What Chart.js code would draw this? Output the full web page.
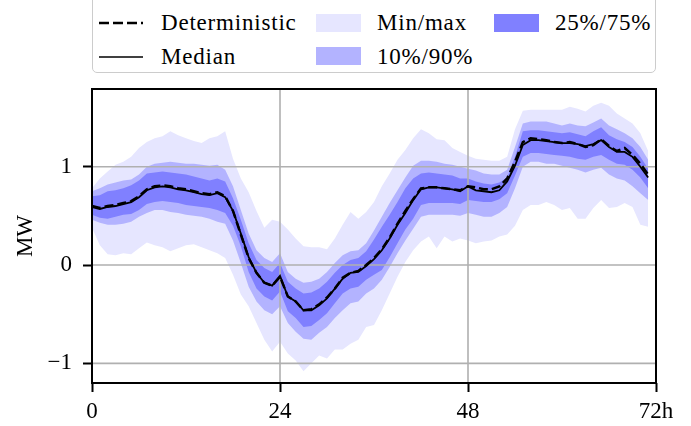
<!DOCTYPE html>
<html>
<head>
<meta charset="utf-8">
<script src="https://cdn.jsdelivr.net/npm/chart.js@4"></script>
<style>
  html, body { margin: 0; padding: 0; background: #fff; }
  body { width: 691px; height: 426px; position: relative; overflow: hidden; font-family: 'Liberation Serif', 'DejaVu Serif', serif; }
  #wrap { position: absolute; left: 0; top: 0; width: 691px; height: 426px; }
  .legend-box { position: absolute; left: 92px; top: -12px; width: 562px; height: 83px; border: 1.6px solid #cccccc; border-radius: 5px; background: #fff; }
  .lg-text { position: absolute; height: 28px; line-height: 28px; font-size: 23px; color: #000; letter-spacing: 0.8px; white-space: nowrap; font-family: 'Liberation Serif', 'DejaVu Serif', serif; }
  .lg-swatch { position: absolute; width: 45px; height: 18px; }
  svg.lg-line { position: absolute; left: 99px; width: 44px; height: 6px; }
</style>
</head>
<body>
<div id="wrap"><canvas id="chart"></canvas></div>

<div class="legend-box"></div>
<svg class="lg-line" style="top:20px"><line x1="0" y1="3" x2="44" y2="3" stroke="#000" stroke-width="2.5" stroke-dasharray="10 4"/></svg>
<span class="lg-text" style="left:161px; top:9px">Deterministic</span>
<svg class="lg-line" style="top:54px"><line x1="0" y1="3" x2="44" y2="3" stroke="#000" stroke-width="1.7"/></svg>
<span class="lg-text" style="left:161px; top:43px">Median</span>
<div class="lg-swatch" style="left:316px; top:14px; background:#e6e6ff"></div>
<span class="lg-text" style="left:377px; top:9px">Min/max</span>
<div class="lg-swatch" style="left:316px; top:47px; background:#b3b3ff"></div>
<span class="lg-text" style="left:377px; top:43px">10%/90%</span>
<div class="lg-swatch" style="left:494px; top:14px; background:#8080ff"></div>
<span class="lg-text" style="left:555px; top:9px">25%/75%</span>

<script>
// hours of the forecast horizon
const hours = [0, 1, 2, 3, 4, 5, 6, 7, 8, 9, 10, 11, 12, 13, 14, 15, 16, 17, 18, 19, 20, 21, 22, 23,
    24, 25, 26, 27, 28, 29, 30, 31, 32, 33, 34, 35, 36, 37, 38, 39, 40, 41, 42, 43, 44, 45, 46, 47,
    48, 49, 50, 51, 52, 53, 54, 55, 56, 57, 58, 59, 60, 61, 62, 63, 64, 65, 66, 67, 68, 69, 70, 71];

const xTicks = [0, 24, 48, 72];
const xTickLabels = ['0', '24', '48', '72h'];
const yTicks = [-1, 0, 1];
const yTickLabels = ['\u22121', '0', '1'];

const deterministic = [0.60, 0.58, 0.60, 0.61, 0.63, 0.65, 0.70, 0.77, 0.80, 0.81, 0.80, 0.78, 0.77, 0.75, 0.73, 0.72, 0.74, 0.70,
    0.55, 0.31, 0.07, -0.08, -0.18, -0.21, -0.12, -0.32, -0.37, -0.46, -0.45, -0.40, -0.33, -0.24, -0.13, -0.08, -0.06, 0.00,
    0.07, 0.16, 0.28, 0.42, 0.55, 0.67, 0.78, 0.79, 0.79, 0.78, 0.77, 0.76, 0.80, 0.79, 0.77, 0.77, 0.80, 0.88,
    1.05, 1.25, 1.29, 1.28, 1.27, 1.25, 1.24, 1.25, 1.23, 1.20, 1.22, 1.28, 1.21, 1.16, 1.19, 1.12, 1.03, 0.92];

const median = [0.59, 0.57, 0.59, 0.60, 0.62, 0.64, 0.69, 0.76, 0.79, 0.80, 0.79, 0.77, 0.76, 0.74, 0.72, 0.71, 0.73, 0.69,
    0.55, 0.32, 0.08, -0.08, -0.18, -0.21, -0.11, -0.32, -0.37, -0.46, -0.46, -0.41, -0.34, -0.24, -0.14, -0.08, -0.07, -0.01,
    0.06, 0.15, 0.27, 0.41, 0.53, 0.66, 0.77, 0.79, 0.79, 0.78, 0.77, 0.75, 0.80, 0.76, 0.75, 0.74, 0.76, 0.85,
    1.01, 1.22, 1.27, 1.27, 1.26, 1.25, 1.24, 1.24, 1.23, 1.21, 1.23, 1.27, 1.20, 1.15, 1.15, 1.10, 1.00, 0.89];

const minVals = [0.38, 0.20, 0.11, 0.10, 0.12, 0.11, 0.17, 0.23, 0.20, 0.18, 0.14, 0.17, 0.20, 0.21, 0.18, 0.15, 0.12, 0.07,
    -0.10, -0.30, -0.42, -0.59, -0.76, -0.88, -0.78, -0.90, -0.97, -1.08, -1.00, -0.92, -0.95, -0.86, -0.86, -0.80, -0.76, -0.63,
    -0.61, -0.46, -0.29, -0.12, 0.03, 0.15, 0.24, 0.29, 0.17, 0.29, 0.24, 0.27, 0.25, 0.22, 0.24, 0.25, 0.29, 0.31,
    0.40, 0.56, 0.61, 0.61, 0.64, 0.61, 0.56, 0.58, 0.47, 0.47, 0.58, 0.66, 0.58, 0.59, 0.63, 0.59, 0.41, 0.39];

const maxVals = [0.78, 0.88, 0.95, 1.02, 1.05, 1.10, 1.19, 1.25, 1.29, 1.31, 1.36, 1.32, 1.29, 1.26, 1.24, 1.29, 1.31, 1.36,
    1.08, 0.88, 0.74, 0.55, 0.38, 0.46, 0.44, 0.36, 0.27, 0.19, 0.18, 0.18, 0.16, 0.27, 0.41, 0.54, 0.47, 0.54,
    0.64, 0.80, 0.93, 1.07, 1.17, 1.29, 1.38, 1.34, 1.28, 1.27, 1.19, 1.15, 1.11, 1.08, 1.07, 1.06, 1.06, 1.10,
    1.38, 1.57, 1.58, 1.58, 1.58, 1.58, 1.58, 1.61, 1.59, 1.56, 1.62, 1.65, 1.62, 1.54, 1.49, 1.44, 1.34, 1.16];

const p10 = [0.46, 0.43, 0.41, 0.41, 0.42, 0.44, 0.49, 0.53, 0.56, 0.56, 0.54, 0.53, 0.51, 0.50, 0.49, 0.47, 0.44, 0.42,
    0.25, 0.02, -0.22, -0.37, -0.46, -0.50, -0.42, -0.59, -0.68, -0.75, -0.76, -0.69, -0.63, -0.54, -0.46, -0.39, -0.37, -0.29,
    -0.24, -0.15, -0.02, 0.12, 0.25, 0.37, 0.49, 0.51, 0.51, 0.51, 0.51, 0.50, 0.53, 0.51, 0.49, 0.49, 0.53, 0.59,
    0.78, 1.00, 1.05, 1.05, 1.03, 1.03, 1.01, 0.99, 0.97, 0.94, 0.97, 0.99, 0.92, 0.88, 0.86, 0.80, 0.73, 0.66];

const p90 = [0.75, 0.78, 0.82, 0.84, 0.86, 0.87, 0.92, 1.00, 1.03, 1.04, 1.05, 1.04, 1.03, 1.03, 1.02, 1.01, 1.02, 0.97,
    0.80, 0.56, 0.32, 0.15, 0.07, 0.03, 0.12, -0.07, -0.14, -0.18, -0.17, -0.14, -0.07, 0.02, 0.10, 0.14, 0.15, 0.22,
    0.35, 0.49, 0.63, 0.76, 0.89, 1.01, 1.06, 1.06, 1.05, 1.03, 1.02, 1.00, 0.98, 0.96, 0.93, 0.92, 0.92, 0.97,
    1.20, 1.44, 1.46, 1.46, 1.46, 1.44, 1.42, 1.44, 1.42, 1.41, 1.45, 1.49, 1.42, 1.38, 1.34, 1.29, 1.20, 1.07];

const p25 = [0.51, 0.48, 0.47, 0.49, 0.51, 0.52, 0.56, 0.62, 0.64, 0.65, 0.64, 0.63, 0.61, 0.60, 0.59, 0.58, 0.56, 0.53,
    0.40, 0.19, -0.07, -0.24, -0.32, -0.36, -0.27, -0.47, -0.54, -0.63, -0.62, -0.56, -0.49, -0.39, -0.29, -0.24, -0.22, -0.15,
    -0.10, -0.05, 0.08, 0.22, 0.36, 0.47, 0.61, 0.63, 0.63, 0.63, 0.63, 0.62, 0.66, 0.65, 0.64, 0.64, 0.67, 0.73,
    0.91, 1.10, 1.14, 1.14, 1.13, 1.12, 1.11, 1.10, 1.08, 1.07, 1.10, 1.12, 1.07, 1.03, 1.02, 0.97, 0.89, 0.78];

const p75 = [0.70, 0.71, 0.75, 0.76, 0.78, 0.81, 0.86, 0.93, 0.94, 0.95, 0.94, 0.93, 0.92, 0.90, 0.88, 0.86, 0.88, 0.85,
    0.68, 0.46, 0.22, 0.05, -0.03, -0.07, 0.02, -0.17, -0.24, -0.29, -0.28, -0.24, -0.17, -0.08, 0.00, 0.05, 0.07, 0.14,
    0.26, 0.39, 0.51, 0.64, 0.78, 0.88, 0.93, 0.94, 0.93, 0.92, 0.91, 0.88, 0.88, 0.85, 0.83, 0.82, 0.84, 0.89,
    1.10, 1.36, 1.37, 1.37, 1.36, 1.35, 1.34, 1.35, 1.33, 1.31, 1.36, 1.40, 1.32, 1.28, 1.25, 1.20, 1.10, 0.98];

const gridColor = '#b0b0b0';

function toPoints(values) {
    return values.map((v, i) => ({ x: hours[i], y: v }));
}

function band(values, color, fillTo) {
    return {
        data: toPoints(values),
        borderWidth: 0,
        borderColor: 'transparent',
        backgroundColor: color,
        pointRadius: 0,
        tension: 0,
        fill: fillTo
    };
}

// grid goes above the bands but below the two lines, like matplotlib
const gridAndFrame = {
    id: 'gridAndFrame',
    afterDatasetDraw(chart, args) {
        if (args.index !== 2) return;
        const ctx = chart.ctx;
        const area = chart.chartArea;
        const xs = chart.scales.x, ys = chart.scales.y;
        ctx.save();
        ctx.strokeStyle = gridColor;
        ctx.lineWidth = 1.6;
        ctx.beginPath();
        xTicks.forEach(v => {
            const px = xs.getPixelForValue(v);
            ctx.moveTo(px, area.top);
            ctx.lineTo(px, area.bottom);
        });
        yTicks.forEach(v => {
            const py = ys.getPixelForValue(v);
            ctx.moveTo(area.left, py);
            ctx.lineTo(area.right, py);
        });
        ctx.stroke();
        ctx.restore();
    },
    afterDraw(chart) {
        const ctx = chart.ctx;
        const area = chart.chartArea;
        ctx.save();
        ctx.strokeStyle = '#000';
        ctx.lineWidth = 2;
        ctx.strokeRect(area.left, area.top, area.right - area.left, area.bottom - area.top);
        ctx.restore();
    }
};

Chart.defaults.font.family = "'Liberation Serif', 'DejaVu Serif', serif";
Chart.defaults.font.size = 23;
Chart.defaults.color = '#000';

const ctx = document.getElementById('chart').getContext('2d');
new Chart(ctx, {
    type: 'line',
    data: {
        datasets: [
            {
                label: 'Deterministic',
                data: toPoints(deterministic),
                borderColor: '#000',
                borderWidth: 2.5,
                borderDash: [9, 4],
                pointRadius: 0,
                tension: 0,
                fill: false
            },
            {
                label: 'Median',
                data: toPoints(median),
                borderColor: '#000',
                borderWidth: 1.8,
                pointRadius: 0,
                tension: 0,
                fill: false
            },
            band(p25, '#8080ff', '+1'),
            band(p75, '#8080ff', false),
            band(p10, '#b3b3ff', '+1'),
            band(p90, '#b3b3ff', false),
            band(minVals, '#e6e6ff', '+1'),
            band(maxVals, '#e6e6ff', false)
        ]
    },
    options: {
        responsive: true,
        maintainAspectRatio: false,
        animation: false,
        layout: {
            padding: { left: 0, top: 89, right: 35, bottom: 0 }
        },
        plugins: {
            legend: { display: false },
            tooltip: { enabled: false }
        },
        scales: {
            x: {
                type: 'linear',
                min: 0,
                max: 72,
                afterBuildTicks: scale => { scale.ticks = xTicks.map(v => ({ value: v })); },
                afterFit: scale => { scale.height = 43; },
                ticks: {
                    padding: 6,
                    maxRotation: 0,
                    autoSkip: false,
                    callback: value => xTickLabels[xTicks.indexOf(value)]
                },
                grid: {
                    drawOnChartArea: false,
                    drawTicks: true,
                    tickLength: 9,
                    tickWidth: 2,
                    tickColor: '#000'
                },
                border: { display: false }
            },
            y: {
                min: -1.2,
                max: 1.79,
                afterBuildTicks: scale => { scale.ticks = yTicks.map(v => ({ value: v })); },
                afterFit: scale => { scale.width = 92; },
                ticks: {
                    padding: 11,
                    autoSkip: false,
                    callback: value => yTickLabels[yTicks.indexOf(value)]
                },
                grid: {
                    drawOnChartArea: false,
                    drawTicks: true,
                    tickLength: 9,
                    tickWidth: 2,
                    tickColor: '#000'
                },
                border: { display: false },
                title: {
                    display: true,
                    text: 'MW',
                    padding: { top: 12, bottom: 0 }
                }
            }
        }
    },
    plugins: [gridAndFrame]
});
</script>
</body>
</html>
